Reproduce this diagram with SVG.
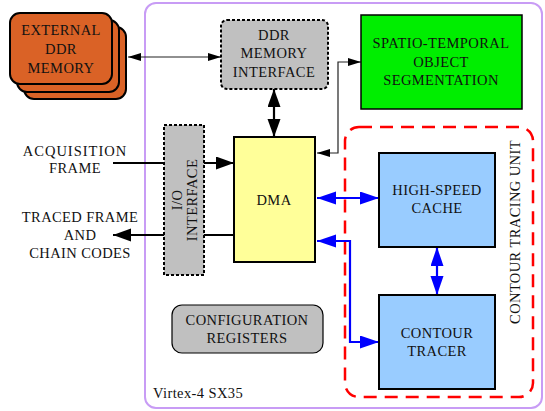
<svg xmlns="http://www.w3.org/2000/svg" width="545" height="411" viewBox="0 0 545 411">
<style>
text{font-family:"Liberation Serif","Times New Roman",serif;font-size:14.5px;letter-spacing:0.4px;fill:#111;text-anchor:middle}
.box{stroke:#000;stroke-width:2}
.dash{stroke:#000;stroke-width:2;stroke-dasharray:3,2}
.thin{fill:none;stroke:#222;stroke-width:1.2}
.thick{fill:none;stroke:#000;stroke-width:2.2}
.blue{fill:none;stroke:#0000ff;stroke-width:2.2}
</style>
<defs>
<marker id="aThin" markerUnits="userSpaceOnUse" markerWidth="14" markerHeight="10" refX="13" refY="4" orient="auto-start-reverse"><path d="M0,0 L13,4 L0,8 z" fill="#000"/></marker>
<marker id="aBig" markerUnits="userSpaceOnUse" markerWidth="20" markerHeight="14" refX="18" refY="6.5" orient="auto-start-reverse"><path d="M0,0 L18,6.5 L0,13 z" fill="#000"/></marker>
<marker id="aBlue" markerUnits="userSpaceOnUse" markerWidth="20" markerHeight="14" refX="19" refY="6.5" orient="auto-start-reverse"><path d="M0,0 L19,6.5 L0,13 z" fill="#0000ff"/></marker>
</defs>
<rect x="145" y="3" width="397" height="405" rx="11" fill="#fff" stroke="#c89cf5" stroke-width="2"/>
<text x="153" y="398" style="text-anchor:start">Virtex-4 SX35</text>
<g id="contour-tracing-unit">
<rect x="345" y="127" width="188" height="270" rx="14" fill="none" stroke="#ff0000" stroke-width="2.5" stroke-dasharray="13,8"/>
<text transform="translate(520,232) rotate(-90)">CONTOUR TRACING UNIT</text>
</g>
<g id="connectors">
<line class="thin" x1="221" y1="57" x2="128" y2="57" marker-start="url(#aThin)" marker-end="url(#aThin)"/>
<line class="thick" x1="274" y1="89" x2="274" y2="137" marker-start="url(#aBig)" marker-end="url(#aBig)"/>
<polyline class="thin" points="317,153 338,153 338,62 361,62" marker-start="url(#aThin)" marker-end="url(#aThin)"/>
<line class="thick" x1="113" y1="163" x2="234" y2="163" marker-end="url(#aBig)"/>
<line class="thick" x1="234" y1="235" x2="113" y2="235" marker-end="url(#aBig)"/>
<line class="blue" x1="317" y1="198" x2="379" y2="198" marker-start="url(#aBlue)" marker-end="url(#aBlue)"/>
<line class="blue" x1="437" y1="247" x2="437" y2="295" marker-start="url(#aBlue)" marker-end="url(#aBlue)"/>
<polyline class="blue" points="317,241 350,241 350,342 379,342" marker-start="url(#aBlue)" marker-end="url(#aBlue)"/>
</g>
<g id="external-ddr-memory">
<rect x="24" y="27" width="102" height="72" rx="10" fill="#da6226" class="box"/>
<rect x="17" y="20" width="102" height="72" rx="10" fill="#da6226" class="box"/>
<rect x="10" y="13" width="102" height="71" rx="10" fill="#da6226" class="box"/>
<text x="61" y="35">EXTERNAL</text>
<text x="61" y="54">DDR</text>
<text x="61" y="73">MEMORY</text>
</g>
<g id="ddr-memory-interface">
<rect x="221" y="20" width="107" height="69" rx="6" fill="#c0c0c0" class="dash"/>
<text x="274" y="40">DDR</text>
<text x="274" y="58">MEMORY</text>
<text x="274" y="77">INTERFACE</text>
</g>
<g id="spatio-temporal">
<rect x="361" y="15" width="161" height="94" fill="#00ee00" stroke="#000" stroke-width="1.5"/>
<text x="441" y="48">SPATIO-TEMPORAL</text>
<text x="441" y="67">OBJECT</text>
<text x="441" y="85">SEGMENTATION</text>
</g>
<g id="io-interface">
<rect x="164" y="125" width="40" height="150" fill="#c0c0c0" class="dash"/>
<text transform="translate(182,200) rotate(-90)">I/O</text>
<text transform="translate(197,200) rotate(-90)">INTERFACE</text>
</g>
<g id="acquisition-frame">
<text x="75" y="156" style="letter-spacing:1px">ACQUISITION</text>
<text x="75" y="173">FRAME</text>
</g>
<g id="traced-frame">
<text x="80" y="222">TRACED FRAME</text>
<text x="80" y="240">AND</text>
<text x="80" y="258">CHAIN CODES</text>
</g>
<g id="dma">
<rect x="234" y="137" width="81" height="125" fill="#ffff99" class="box"/>
<text x="274" y="205">DMA</text>
</g>
<g id="high-speed-cache">
<rect x="379" y="153" width="116" height="94" fill="#99ccff" class="box"/>
<text x="437" y="195">HIGH-SPEED</text>
<text x="437" y="213">CACHE</text>
</g>
<g id="contour-tracer">
<rect x="379" y="295" width="116" height="94" fill="#99ccff" class="box"/>
<text x="437" y="338">CONTOUR</text>
<text x="437" y="356">TRACER</text>
</g>
<g id="configuration-registers">
<rect x="172" y="305" width="151" height="48" rx="10" fill="#c0c0c0" stroke="#000" stroke-width="1.2"/>
<text x="247" y="325">CONFIGURATION</text>
<text x="247" y="343">REGISTERS</text>
</g>
</svg>
